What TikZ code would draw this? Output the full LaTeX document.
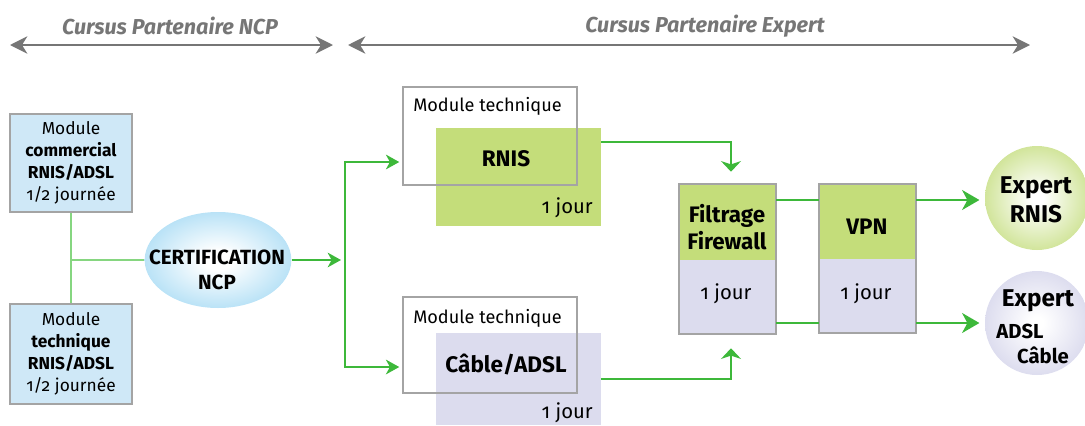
\documentclass[tikz,border=0pt]{standalone}
\usepackage{fontspec}
\setmainfont{Fira Sans}[Numbers=OldStyle]
\usetikzlibrary{arrows.meta,shapes.geometric}
\definecolor{gborder}{HTML}{A4A4A4}
\definecolor{lblue}{HTML}{CFE8F7}
\definecolor{lgreen}{HTML}{C4DD7A}
\definecolor{lav}{HTML}{DCDCEE}
\definecolor{arrgreen}{HTML}{3DB83A}
\definecolor{lgline}{HTML}{86D680}
\definecolor{tgrey}{HTML}{767676}
\definecolor{cblue}{HTML}{86CDF0}
\definecolor{cgreen}{HTML}{BFDA72}
\definecolor{clav}{HTML}{CFCFE8}
\pgfdeclareradialshading{blueball}{\pgfpoint{0bp}{0bp}}{color(0bp)=(white); color(5bp)=(white); color(40bp)=(cblue); color(72bp)=(cblue)}
\pgfdeclareradialshading{greenball}{\pgfpoint{0bp}{0bp}}{color(0bp)=(white); color(3bp)=(white); color(34bp)=(cgreen); color(72bp)=(cgreen)}
\pgfdeclareradialshading{lavball}{\pgfpoint{0bp}{0bp}}{color(0bp)=(white); color(3bp)=(white); color(34bp)=(clav); color(72bp)=(clav)}
\begin{document}
\begin{tikzpicture}[x=0.75pt,y=-0.75pt,
  greyarrow/.style={draw=tgrey, line width=1.6pt, {Stealth[length=13pt,width=13pt,inset=4pt]}-{Stealth[length=13pt,width=13pt,inset=4pt]}},
  toptitle/.style={text=tgrey, font=\fontsize{16.2}{18}\selectfont\bfseries\itshape},
  lbox/.style={draw=gborder, line width=1.6pt, fill=lblue, minimum width=91.5pt, inner sep=0pt, align=center, font=\fontsize{13}{16.5}\selectfont},
  frame/.style={draw=gborder, line width=1.6pt, inner sep=0pt},
  gfill/.style={fill=lgreen, inner sep=0pt},
  lfill/.style={fill=lav, inner sep=0pt},
  border/.style={draw=gborder, line width=1.8pt},
  lgl/.style={draw=lgline, line width=1.5pt},
  gline/.style={draw=arrgreen, line width=1.6pt},
  garrow/.style={gline, -{Stealth[length=10pt,width=11pt,inset=3pt]}},
  bigarrow/.style={gline, -{Stealth[length=13pt,width=15pt,inset=4pt]}},
  varrow/.style={gline, -{Stealth[length=8pt,width=15pt,inset=2.5pt]}},
  modtxt/.style={font=\fontsize{13.6}{16}\selectfont, inner sep=0pt},
  bigb/.style={font=\fontsize{16.9}{20}\selectfont\bfseries, inner sep=0pt},
  midb/.style={font=\fontsize{16.8}{20.25}\selectfont\bfseries, inner sep=0pt, align=center},
  jour/.style={font=\fontsize{15.2}{16}\selectfont, inner sep=0pt},
  exb/.style={font=\fontsize{18.2}{21.75}\selectfont\bfseries, inner sep=0pt, align=center},
  exs/.style={font=\fontsize{15.2}{16}\selectfont\bfseries, inner sep=0pt}
]
\useasboundingbox (0,0) rectangle (1085,425);

% top arrows
\coordinate (a1) at (10,45);
\coordinate (a2) at (333,45);
\coordinate (b1) at (348,45);
\coordinate (b2) at (1030,45);
\draw[greyarrow] (a1) -- (a2);
\draw[greyarrow] (b1) -- (b2);
\node[toptitle] (t1) at (170,26) {Cursus Partenaire NCP};
\node[toptitle] (t2) at (705,26) {Cursus Partenaire Expert};

% left boxes
\node[lbox, minimum height=73.5pt] (m1) at (71,163) {Module\\\textbf{commercial}\\\textbf{RNIS/ADSL}\\1/2 journée};
\node[lbox, minimum height=75pt] (m2) at (71,354) {Module\\\textbf{technique}\\\textbf{RNIS/ADSL}\\1/2 journée};

% certification
\node[ellipse, shading=blueball, minimum width=110pt, minimum height=72pt, inner sep=0pt] (cert) at (218,260) {};
\node[font=\fontsize{15.4}{18.75}\selectfont\bfseries, align=center, inner sep=0pt] (certt) at (217,270) {CERTIFICATION\\NCP};
\coordinate (j) at (71,260);
\draw[lgl] (m1.south) -- (m2.north);
\draw[lgl] (j) -- (cert.west);

% branch
\coordinate (bj) at (341,260);
\coordinate (br1) at (345,162);
\coordinate (br2) at (345,367);
\draw[garrow] (cert.east) -- (bj);

% RNIS module
\node[gfill, minimum width=123.75pt, minimum height=73.5pt] (rg) at (518.5,177) {};
\node[frame, minimum width=130.5pt, minimum height=73.5pt] (rf) at (490,136) {};
\node[modtxt, anchor=west] (rmt) at (413,106) {Module technique};
\node[bigb] (rn) at (506,159) {RNIS};
\node[jour, anchor=east] (rj) at (593,208) {1 jour};

% Cable/ADSL module
\node[lfill, minimum width=123.75pt, minimum height=69pt] (cg) at (518.5,379) {};
\node[frame, minimum width=130.5pt, minimum height=72pt] (cf) at (490,345) {};
\node[modtxt, anchor=west] (cmt) at (413,318) {Module technique};
\node[bigb] (cn) at (506,364) {Câble/ADSL};
\node[jour, anchor=east] (cj) at (593,413) {1 jour};

\draw[garrow, shorten >=2pt] (br2) -- (br1) -- (br1 -| rf.west);
\draw[garrow, shorten >=2pt] (br1) -- (br2) -- (br2 -| cf.west);

% Filtrage
\node[gfill, minimum width=72.75pt, minimum height=57pt] (fg) at (727.5,222) {};
\node[lfill, minimum width=72.75pt, minimum height=55.5pt] (fl) at (727.5,297) {};
\draw[border] (fg.north west) rectangle (fl.south east);
\node[midb] (ft) at (727,227) {Filtrage\\Firewall};
\node[jour] (fj) at (726,294) {1 jour};

% VPN
\node[gfill, minimum width=72.75pt, minimum height=56.25pt] (vg) at (867.5,221.5) {};
\node[lfill, minimum width=72.75pt, minimum height=55.5pt] (vl) at (867.5,296) {};
\draw[border] (vg.north west) rectangle (vl.south east);
\node[midb] (vt) at (867,227) {VPN};
\node[jour] (vj) at (866,294) {1 jour};

% connectors to Filtrage
\coordinate (k1) at (731,142);
\coordinate (k2) at (731,379);
\draw[varrow, shorten >=9pt] (k1 -| rg.east) -- (k1) -- (k1 |- fg.north);
\draw[varrow, shorten >=10.5pt] (k2 -| cg.east) -- (k2) -- (k2 |- fl.south);

% experts
\node[circle, shading=greenball, minimum size=78pt, inner sep=0pt] (er) at (1037,198) {};
\node[circle, shading=lavball, minimum size=78pt, inner sep=0pt] (ea) at (1037,323) {};
\node[exb] (ert) at (1036,200) {Expert\\RNIS};
\node[exb] (eat) at (1038,301) {Expert};
\node[exs] (eaa) at (1020,331) {ADSL};
\node[exs] (eac) at (1043,355) {Câble};

\coordinate (h1) at (0,200);
\coordinate (h2) at (0,323);
\draw[gline] (fg.east |- h1) -- (vg.west |- h1);
\draw[gline] (fl.east |- h2) -- (vl.west |- h2);
\draw[bigarrow, shorten >=4pt] (vg.east |- h1) -- (er.west |- h1);
\draw[bigarrow, shorten >=4pt] (vl.east |- h2) -- (ea.west |- h2);
\end{tikzpicture}
\end{document}
